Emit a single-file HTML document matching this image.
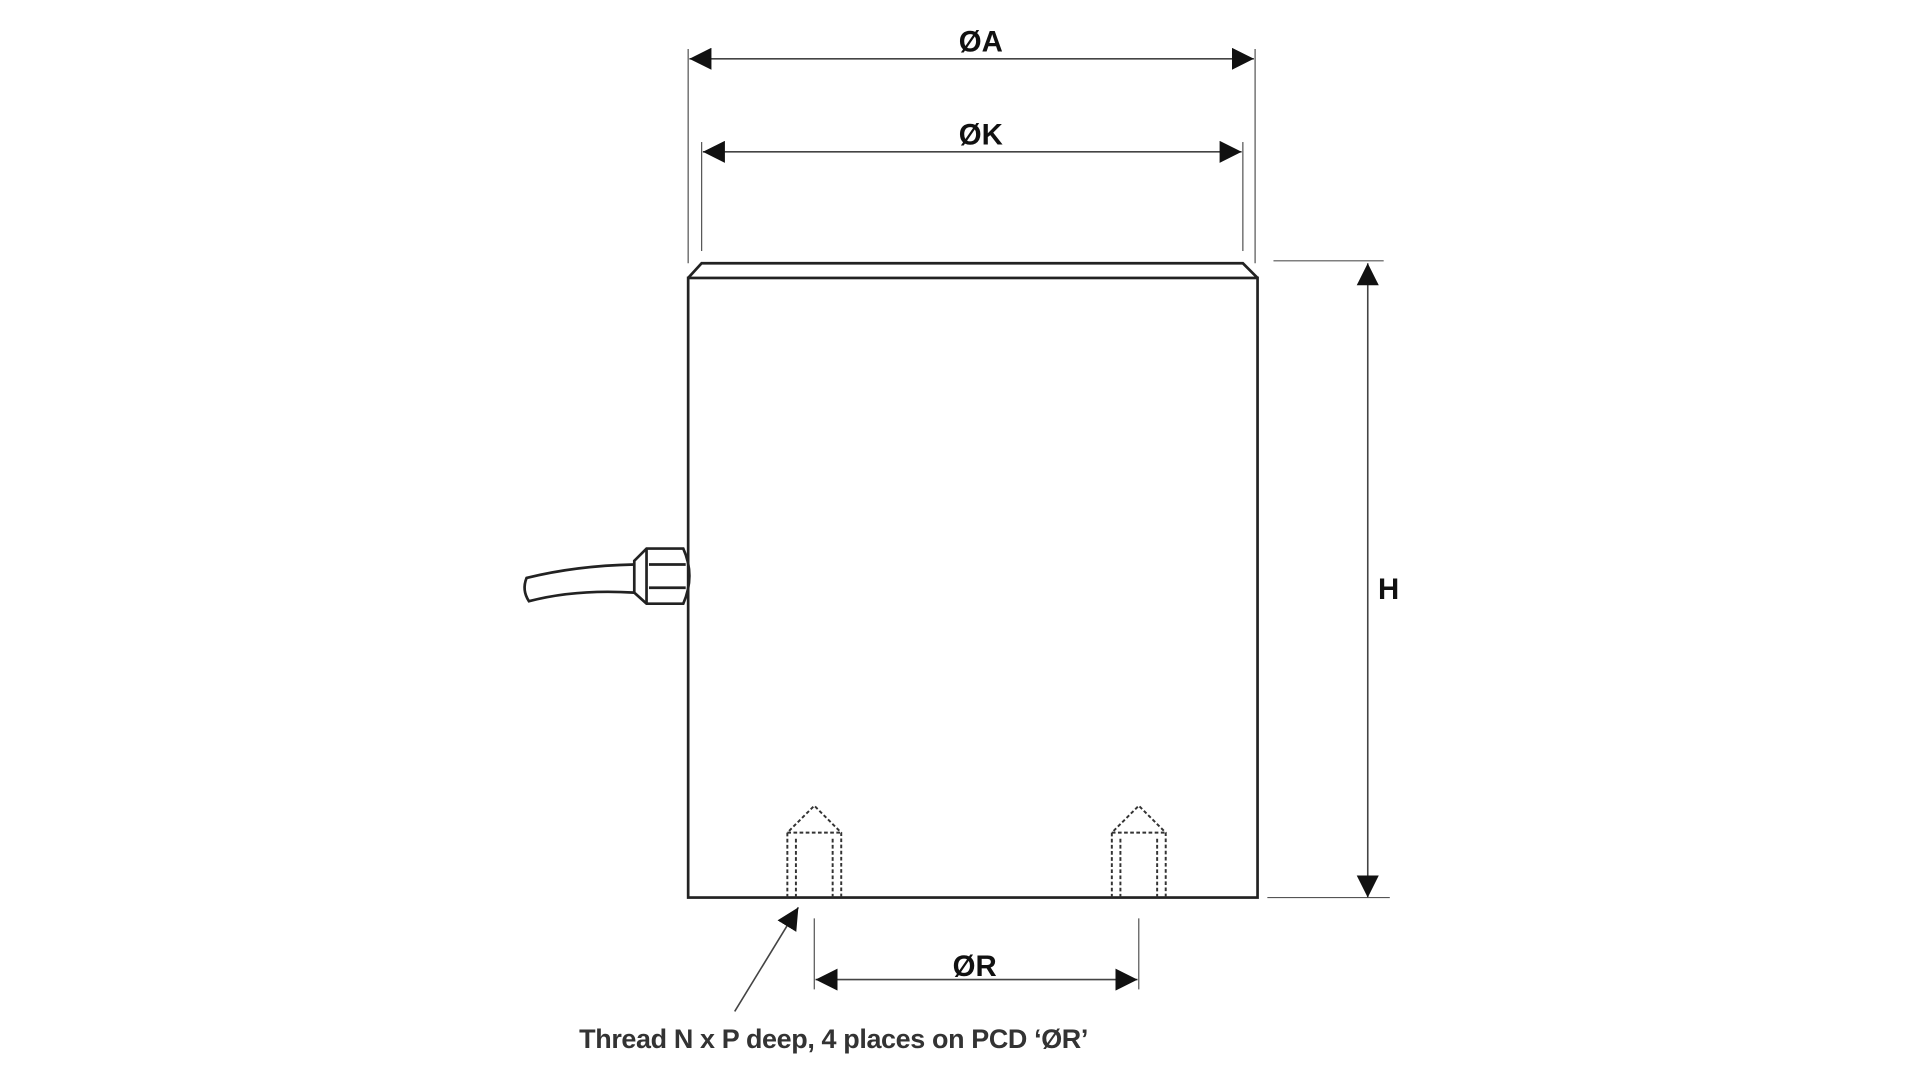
<!DOCTYPE html>
<html><head><style>html,body{margin:0;padding:0;background:#fff;width:1920px;height:1080px;overflow:hidden}</style></head>
<body>
<svg width="1920" height="1080" viewBox="0 0 1568 882" preserveAspectRatio="none" xmlns="http://www.w3.org/2000/svg" font-family="Liberation Sans, sans-serif">
<defs>
<marker id="a" viewBox="0 0 10 10" refX="10" refY="5" markerWidth="18" markerHeight="18" markerUnits="userSpaceOnUse" orient="auto-start-reverse"><path d="M0,0 L10,5 L0,10 z" fill="#111"/></marker>
</defs>
<g stroke="#555" stroke-width="1" fill="none">
<line x1="562" y1="40" x2="562" y2="215"/>
<line x1="1025" y1="40" x2="1025" y2="215"/>
<line x1="573" y1="116" x2="573" y2="205"/>
<line x1="1015" y1="116" x2="1015" y2="205"/>
<line x1="1040" y1="213" x2="1130" y2="213"/>
<line x1="1035" y1="733" x2="1135" y2="733"/>
<line x1="665" y1="750" x2="665" y2="808"/>
<line x1="930" y1="750" x2="930" y2="808"/>
</g>
<g stroke="#444" stroke-width="1.3" fill="none">
<line x1="563" y1="48" x2="1024" y2="48" marker-start="url(#a)" marker-end="url(#a)"/>
<line x1="574" y1="124" x2="1014" y2="124" marker-start="url(#a)" marker-end="url(#a)"/>
<line x1="1117" y1="215" x2="1117" y2="733" marker-start="url(#a)" marker-end="url(#a)"/>
<line x1="666" y1="800" x2="929" y2="800" marker-start="url(#a)" marker-end="url(#a)"/>
<line x1="600" y1="826" x2="652" y2="741" marker-end="url(#a)"/>
</g>
<g stroke="#222" stroke-width="2.2" fill="none">
<path d="M562,227 L573,215 L1015,215 L1027,227"/>
<rect x="562" y="227" width="465" height="506"/>
<path d="M518,461 Q470,462 430,472 Q426,482 432,491 Q470,481 518,484"/>
<path d="M518,458 L528,448 L558,448 Q568,470 558,493 L528,493 L518,484 z"/>
<line x1="528" y1="448" x2="528" y2="493"/>
<line x1="530" y1="461" x2="560" y2="461"/>
<line x1="530" y1="480" x2="560" y2="480"/>
</g>
<g stroke="#333" stroke-width="1.6" fill="none" stroke-dasharray="3,2">
<path d="M643,733 L643,680 L665,658 L687,680 L687,733"/>
<path d="M650,733 L650,683 M680,733 L680,683 M643,680 L687,680"/>
<path d="M908,733 L908,680 L930,658 L952,680 L952,733"/>
<path d="M915,733 L915,683 M945,733 L945,683 M908,680 L952,680"/>
</g>
<g fill="#111" font-size="24" font-weight="bold" text-anchor="middle">
<text x="801" y="42">ØA</text>
<text x="801" y="118">ØK</text>
<text x="1134" y="489">H</text>
<text x="796" y="797">ØR</text>
</g>
<text x="473" y="856" font-size="22" font-weight="bold" fill="#333" letter-spacing="-0.3">Thread N x P deep, 4 places on PCD ‘ØR’</text>
</svg>
</body></html>
